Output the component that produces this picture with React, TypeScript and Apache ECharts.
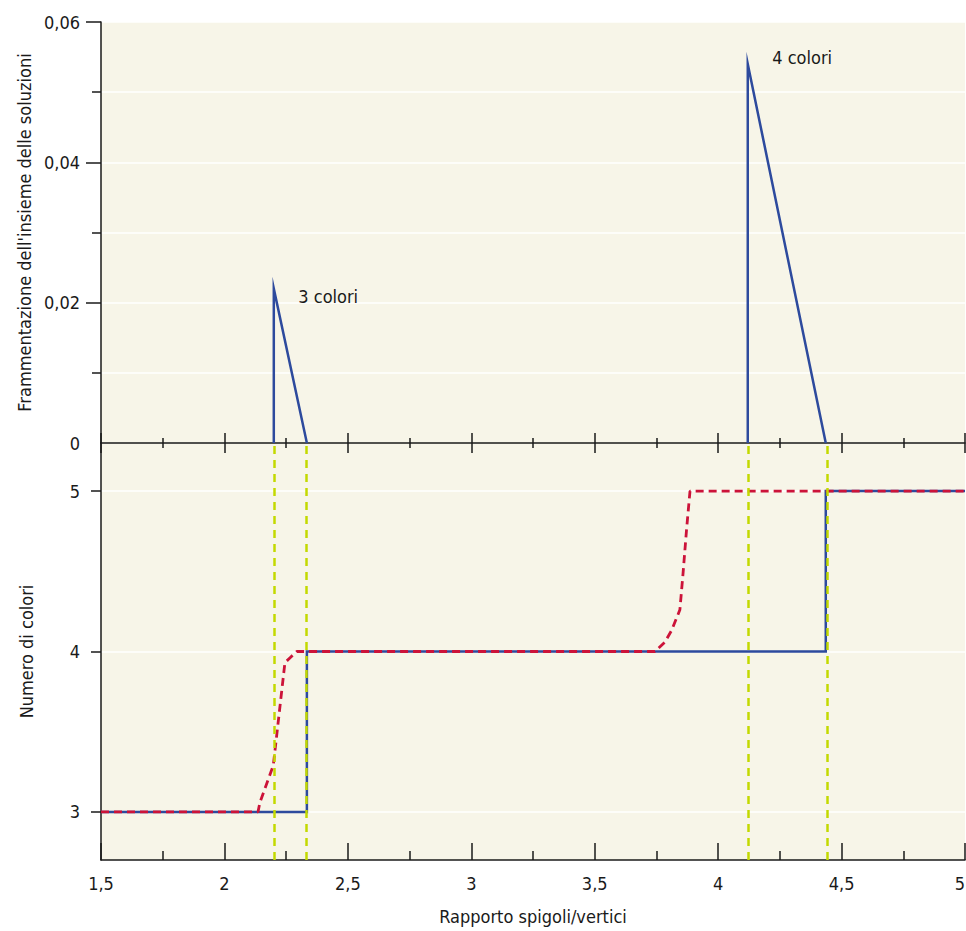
import { useEffect, useRef } from 'react';
import * as echarts from 'echarts';

// x tick labels shown on the bottom axis
const xTickValues = [1.5, 2, 2.5, 3, 3.5, 4, 4.5, 5];
// y tick values
const fragTickValues = [0, 0.02, 0.04, 0.06];
const fragTickMarks = [0.02, 0.04, 0.06];
const colorTickValues = [3, 4, 5];

// Top panel: fragmentation of the solution set
const fragmentation3: [number, number][] = [[2.2, 0], [2.2, 0.022], [2.334, 0]];
const fragmentation4: [number, number][] = [[4.12, 0], [4.12, 0.054], [4.436, 0]];
const peakLabels = ['3 colori', '4 colori'];

// Bottom panel: number of colours
const coloursExact: [number, number][] = [
  [1.5, 3], [2.334, 3], [2.334, 4], [4.436, 4], [4.436, 5], [5, 5],
];
const coloursEstimated: [number, number][] = [
  [1.5, 3], [2.136, 3], [2.144, 3.06], [2.198, 3.29], [2.245, 3.93], [2.265, 3.96],
  [2.293, 4.0], [3.744, 4.0], [3.784, 4.058], [3.811, 4.13], [3.845, 4.26],
  [3.858, 4.49], [3.872, 4.76], [3.886, 5.0], [5, 5],
];

// Thresholds (green dashed verticals)
const thresholds = [2.2, 2.334, 4.12, 4.436];

const FONT = "'Liberation Sans Narrow', 'DejaVu Sans Condensed', 'Roboto Condensed', 'Liberation Sans', sans-serif";
const BG = '#f7f5e8';
const BLUE = '#2d4a9d';
const RED = '#cc1339';
const GREEN = '#c3d900';
const INK = '#1a1a1a';

const fmt = (v: number) => String(Number(v.toFixed(4))).replace('.', ',');

export default function App() {
  const ref = useRef<HTMLDivElement>(null);

  useEffect(() => {
    if (!ref.current) return;
    const chart = echarts.init(ref.current, null, { renderer: 'svg' });

    const axisLine = { show: true, onZero: false, lineStyle: { color: INK, width: 1.5 } };
    const textStyle = { color: INK, fontFamily: FONT, fontSize: 18 };

    const peakItem = (p: [number, number], text: string, offset: number[]) => ({
      value: p,
      symbol: 'circle',
      symbolSize: 1,
      itemStyle: { color: 'rgba(0,0,0,0)' },
      label: { show: true, position: 'right', distance: 24, offset, formatter: text, ...textStyle },
    });

    chart.setOption({
      animation: false,
      textStyle: { fontFamily: FONT },
      grid: [
        { left: 101, top: 22, width: 864, height: 421, show: true, backgroundColor: BG, borderWidth: 0, outerBoundsMode: 'none', containLabel: false },
        { left: 101, top: 443, width: 864, height: 417, show: true, backgroundColor: BG, borderWidth: 0, outerBoundsMode: 'none', containLabel: false },
      ],
      xAxis: [
        {
          gridIndex: 0, type: 'value', position: 'bottom', min: 1.5, max: 5, interval: 0.5,
          axisLine,
          axisTick: { show: true, inside: true, length: 10, lineStyle: { color: INK, width: 1.5 } },
          minorTick: { show: true, splitNumber: 2, length: 5, lineStyle: { color: INK, width: 1.5 } },
          axisLabel: { show: false },
          splitLine: { show: false },
        },
        {
          gridIndex: 0, type: 'value', position: 'bottom', min: 1.5, max: 5, interval: 0.5,
          axisLine: { show: false, onZero: false },
          axisTick: { show: true, inside: false, length: 10, lineStyle: { color: INK, width: 1.5 } },
          minorTick: { show: true, splitNumber: 2, length: 5, lineStyle: { color: INK, width: 1.5 } },
          axisLabel: { show: false },
          splitLine: { show: false },
        },
        {
          gridIndex: 1, type: 'value', position: 'bottom', min: 1.5, max: 5, interval: 0.5,
          axisLine,
          axisTick: { show: true, inside: true, length: 17, lineStyle: { color: INK, width: 1.5 } },
          minorTick: { show: true, splitNumber: 2, length: 9, lineStyle: { color: INK, width: 1.5 } },
          axisLabel: {
            ...textStyle, margin: 14, formatter: (v: number) => fmt(v),
            customValues: xTickValues,
            alignMaxLabel: 'right',
          },
          splitLine: { show: false },
          name: 'Rapporto spigoli/vertici',
          nameLocation: 'middle',
          nameGap: 47,
          nameTextStyle: { ...textStyle },
        },
      ],
      yAxis: [
        {
          gridIndex: 0, type: 'value', min: 0, max: 0.06, interval: 0.02,
          axisLine,
          axisTick: { show: true, inside: false, length: 15, customValues: fragTickMarks, lineStyle: { color: INK, width: 1.5 } },
          minorTick: { show: true, splitNumber: 2, length: 9, lineStyle: { color: INK, width: 1.5 } },
          splitLine: { show: true, lineStyle: { color: '#ffffff', width: 1.5 } },
          minorSplitLine: { show: true, lineStyle: { color: '#ffffff', width: 1.5 } },
          axisLabel: { ...textStyle, margin: 21, formatter: (v: number) => fmt(v), customValues: fragTickValues },
          name: "Frammentazione dell'insieme delle soluzioni",
          nameLocation: 'middle',
          nameGap: 66,
          nameRotate: 90,
          nameTextStyle: { ...textStyle },
        },
        {
          gridIndex: 1, type: 'value', min: 2.7, max: 5.3,
          axisLine,
          axisTick: { show: true, inside: false, length: 10, customValues: colorTickValues, lineStyle: { color: INK, width: 1.5 } },
          splitLine: { show: true, lineStyle: { color: '#ffffff', width: 1.5 } },
          axisLabel: { ...textStyle, margin: 21, formatter: (v: number) => fmt(v), customValues: colorTickValues },
          name: 'Numero di colori',
          nameLocation: 'middle',
          nameGap: 66,
          nameRotate: 90,
          nameTextStyle: { ...textStyle },
        },
      ],
      series: [
        {
          type: 'line', xAxisIndex: 2, yAxisIndex: 1, data: [], symbol: 'none', silent: true, z: 1,
          markLine: {
            silent: true, symbol: 'none', label: { show: false },
            lineStyle: { color: GREEN, width: 2.5, type: [8, 6] },
            data: thresholds.map((x) => ({ xAxis: x })),
          },
        },
        {
          type: 'line', xAxisIndex: 0, yAxisIndex: 0, symbol: 'none', showSymbol: true, z: 3, silent: true,
          lineStyle: { color: BLUE, width: 2.5, join: 'miter', miterLimit: 30 },
          data: fragmentation3.map((p, i) => (i === 1 ? peakItem(p, peakLabels[0], [0, 8]) : p)),
        },
        {
          type: 'line', xAxisIndex: 0, yAxisIndex: 0, symbol: 'none', showSymbol: true, z: 3, silent: true,
          lineStyle: { color: BLUE, width: 2.5, join: 'miter', miterLimit: 30 },
          data: fragmentation4.map((p, i) => (i === 1 ? peakItem(p, peakLabels[1], [0, -7]) : p)),
        },
        {
          type: 'line', xAxisIndex: 2, yAxisIndex: 1, symbol: 'none', z: 3,
          lineStyle: { color: BLUE, width: 2.5, join: 'miter' },
          data: coloursExact,
        },
        {
          type: 'line', xAxisIndex: 2, yAxisIndex: 1, symbol: 'none', z: 4,
          lineStyle: { color: RED, width: 2.8, type: [8, 5] },
          data: coloursEstimated,
        },
      ],
    });

    return () => chart.dispose();
  }, []);

  return (
    <div
      ref={ref}
      style={{ position: 'absolute', left: 0, top: 0, width: 966, height: 931, background: '#ffffff' }}
    />
  );
}
